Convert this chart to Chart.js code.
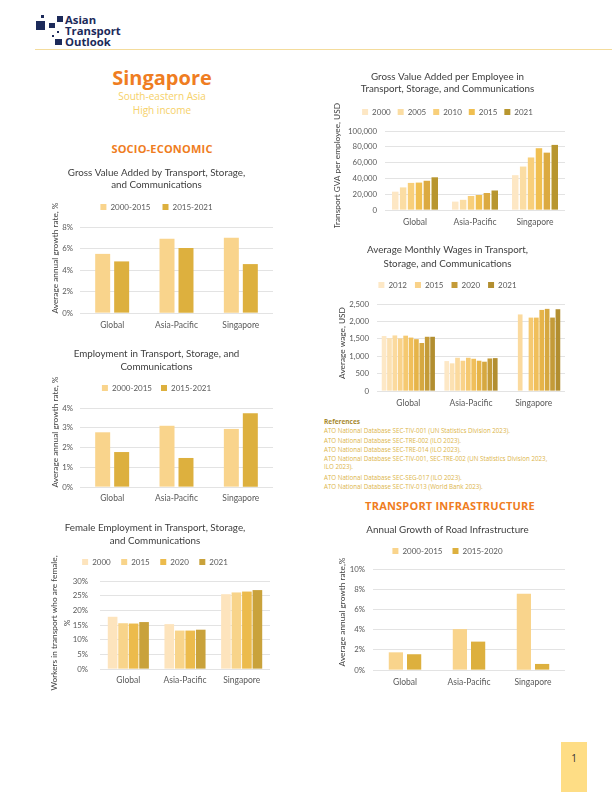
<!DOCTYPE html>
<html><head><meta charset="utf-8">
<script src="https://cdn.jsdelivr.net/npm/chart.js@4.4.1/dist/chart.umd.min.js"></script>
<style>
body{margin:0;background:#fff;}
#page{position:relative;width:612px;height:792px;overflow:hidden;background:#fff;font-family:'Open Sans',sans-serif;}
.t{position:absolute;white-space:nowrap;}
.c{position:absolute;text-align:center;white-space:nowrap;}
canvas{position:absolute;}
.sq{position:absolute;background:#1c2a5a;}
</style></head>
<body><div id="page">
  <!-- logo -->
  <div class="sq" style="left:41px;top:15px;width:3px;height:3px"></div>
  <div class="sq" style="left:57px;top:16px;width:6px;height:6px"></div>
  <div class="sq" style="left:36px;top:21px;width:9px;height:9px"></div>
  <div class="sq" style="left:49px;top:23px;width:6px;height:5px"></div>
  <div class="sq" style="left:57px;top:31px;width:2px;height:2px"></div>
  <div class="sq" style="left:52px;top:35px;width:2px;height:2px"></div>
  <div class="sq" style="left:55px;top:39px;width:7px;height:6px"></div>
  <div class="t" style="left:65px;top:14px;font:bold 11.3px/11px 'Open Sans';color:#1c2a5a">Asian</div>
  <div class="t" style="left:65px;top:25px;font:bold 11.3px/11px 'Open Sans';color:#1c2a5a">Transport</div>
  <div class="t" style="left:65px;top:35.5px;font:bold 11.3px/11px 'Open Sans';color:#1c2a5a">Outlook</div>
  <div style="position:absolute;left:35px;top:49px;width:577px;height:1px;background:#f4dc9c"></div>

  <div class="c" style="left:62px;width:200px;top:64px;font:bold 20px/28px 'Open Sans';color:#ef7d22">Singapore</div>
  <div class="c" style="left:62px;width:200px;top:89px;font:10px/14px 'Open Sans';color:#f6d169">South-eastern Asia</div>
  <div class="c" style="left:62px;width:200px;top:103px;font:10px/14px 'Open Sans';color:#f6d169">High income</div>
  <div class="c" style="left:62px;width:200px;top:141px;font:bold 11px/16px 'Open Sans';letter-spacing:0.2px;color:#ef7d22">SOCIO-ECONOMIC</div>

  <div class="t" style="left:324px;top:417px;font:bold 6.5px/9px 'Open Sans';color:#a88a30">References</div>
  <div class="t" style="left:324px;top:426px;font:6.2px/9px 'Open Sans';color:#dcb54a">ATO National Database SEC-TIV-001 (UN Statistics Division 2023).</div>
  <div class="t" style="left:324px;top:435.5px;font:6.2px/9px 'Open Sans';color:#dcb54a">ATO National Database SEC-TRE-002 (ILO 2023).</div>
  <div class="t" style="left:324px;top:444.5px;font:6.2px/9px 'Open Sans';color:#dcb54a">ATO National Database SEC-TRE-014 (ILO 2023).</div>
  <div class="t" style="left:324px;top:453.5px;font:6.2px/9px 'Open Sans';color:#dcb54a">ATO National Database SEC-TIV-001, SEC-TRE-002 (UN Statistics Division 2023,</div>
  <div class="t" style="left:324px;top:462px;font:6.2px/9px 'Open Sans';color:#dcb54a">ILO 2023).</div>
  <div class="t" style="left:324px;top:472.5px;font:6.2px/9px 'Open Sans';color:#dcb54a">ATO National Database SEC-SEG-017 (ILO 2023).</div>
  <div class="t" style="left:324px;top:481.5px;font:6.2px/9px 'Open Sans';color:#dcb54a">ATO National Database SEC-TIV-013 (World Bank 2023).</div>
  <div class="c" style="left:350px;width:200px;top:498px;font:bold 11px/16px 'Open Sans';letter-spacing:0.2px;color:#ef7d22">TRANSPORT INFRASTRUCTURE</div>

  <div style="position:absolute;left:561px;top:742px;width:26px;height:50px;background:#fedd85"></div>
  <div class="c" style="left:561px;width:26px;top:751px;font:10px/14px 'Open Sans';color:#333">1</div>
</div>
<script>
// ---------------- DATA ----------------
const categories = ['Global', 'Asia-Pacific', 'Singapore'];

const growthPeriods = ['2000-2015', '2015-2021'];
const gvaGrowth2000_2015 = [5.5, 6.9, 7.0];
const gvaGrowth2015_2021 = [4.8, 6.05, 4.55];

const empGrowth2000_2015 = [2.77, 3.1, 2.94];
const empGrowth2015_2021 = [1.77, 1.47, 3.73];

const femaleYears = ['2000', '2015', '2020', '2021'];
const femaleGlobal = [17.8, 15.6, 15.5, 16.0];
const femaleAsiaPacific = [15.3, 13.1, 13.1, 13.4];
const femaleSingapore = [25.5, 26.1, 26.4, 26.9];

const gvaEmpYears = ['2000', '2005', '2010', '2015', '2020', '2021'];
const gvaEmpLegendYears = ['2000', '2005', '2010', '2015', '2021'];
const gvaEmpGlobal = [23200, 28600, 34300, 34700, 37000, 41400];
const gvaEmpAsiaPacific = [10600, 12900, 17700, 19000, 21500, 24700];
const gvaEmpSingapore = [44100, 55000, 66500, 78200, 72600, 82400];

const wageYears = ['2012', '2013', '2014', '2015', '2016', '2017', '2018', '2019', '2020', '2021'];
const wageLegendYears = ['2012', '2015', '2020', '2021'];
const wageGlobal = [1580, 1520, 1597, 1510, 1590, 1535, 1490, 1380, 1558, 1558];
const wageAsiaPacific = [860, 795, 955, 870, 955, 926, 870, 842, 935, 945];
const wageSingapore = [null, null, 2200, null, 2109, 2109, 2330, 2360, 2110, 2350];

const roadPeriods = ['2000-2015', '2015-2020'];
const roadGrowth2000_2015 = [1.75, 4.05, 7.55];
const roadGrowth2015_2020 = [1.56, 2.81, 0.6];

// ---------------- STYLE ----------------
const twoColors = ['#f9d48c', '#ddb03e'];
const femaleColors = ['#fde4bd', '#f8d48a', '#ecbb4c', '#c9a23b'];
const gvaEmpColors = ['#fde7c4', '#fbdda3', '#f8cf7a', '#f0bf50', '#dcaa40', '#b8962f'];
const wageColors = ['#fde8c6', '#fce1b2', '#fbda9e', '#f9d289', '#f5c971', '#f0bf5b', '#e6b449', '#d6a840', '#c49b38', '#b28e30'];
const TITLE_SIZE = 9.8;

Chart.defaults.font.family = 'Lato';
Chart.defaults.color = '#595959';
const page = document.getElementById('page');

function spacerPlugin(h) {
  return { id: 'spacer', beforeInit(chart) {
    const box = { position: 'top', weight: 500, fullSize: true, options: {},
      left: 0, top: 0, right: 0, bottom: 0, width: 0, height: 0,
      isHorizontal() { return true; },
      update(mw) { this.width = mw; this.height = h; return h; },
      draw() {} };
    Chart.layouts.addBox(chart, box);
  }};
}
function yTitlePlugin(lines, cx, cy, lh) {
  return { id: 'ytitle', afterDraw(chart) {
    const ctx = chart.ctx; ctx.save();
    ctx.font = '8.3px Lato'; ctx.fillStyle = '#404040';
    ctx.textAlign = 'center'; ctx.textBaseline = 'middle';
    lines.forEach((t, i) => { ctx.save(); ctx.translate(cx + i * lh, cy); ctx.rotate(-Math.PI / 2); ctx.fillText(t, 0, 0); ctx.restore(); });
    ctx.restore();
  }};
}

function makeChart(L, labels, datasets, yOpts, legendFilter) {
  const cv = document.createElement('canvas');
  const W = L.x1 - L.x0, H = L.y1 - L.y0;
  cv.width = W; cv.height = H;
  cv.style.left = L.x0 + 'px'; cv.style.top = L.y0 + 'px';
  cv.style.width = W + 'px'; cv.style.height = H + 'px';
  page.appendChild(cv);
  const n = L.title.length;
  const tTop = L.titleY - L.titleLH / 2 - L.y0;
  const tBottomAbs = L.titleY - L.titleLH / 2 + n * L.titleLH;
  let p = L.legendPad;
  let pb = L.legendY - 4 - p - tBottomAbs;
  if (pb < 0) { p += pb; pb = 0; }
  const spacerH = Math.max(0, L.plotTop - L.legendY - 14);
  const xH = L.y1 - L.plotBottom;
  const tickPad = L.labelY - L.plotBottom - 5.1;
  return new Chart(cv, {
    type: 'bar',
    data: { labels, datasets },
    plugins: [spacerPlugin(spacerH), yTitlePlugin(L.yTitle, L.yTitleX - L.x0, L.yTitleY - L.y0, L.yTitleLH || 13)],
    options: {
      responsive: false, animation: false, devicePixelRatio: 1,
      layout: { padding: { left: 0, right: L.x1 - L.plotRight, top: 0, bottom: 0 } },
      datasets: { bar: { categoryPercentage: L.cat, barPercentage: L.bar } },
      plugins: {
        tooltip: { enabled: false },
        title: { display: true, text: L.title, color: '#404040',
          font: { family: 'Lato', size: TITLE_SIZE, weight: 'normal', lineHeight: L.titleLH / TITLE_SIZE },
          padding: { top: tTop, bottom: pb } },
        legend: { display: true, position: 'top',
          labels: { boxWidth: 6, boxHeight: 6, padding: p, color: '#595959',
            font: { family: 'Lato', size: 8 },
            filter: legendFilter || (() => true) } }
      },
      scales: {
        x: {
          grid: { display: false, drawTicks: false }, border: { display: false },
          ticks: { padding: tickPad, color: '#595959', font: { family: 'Lato', size: 8.5 }, maxRotation: 0, autoSkip: false },
          afterFit: (s) => { s.height = xH; }
        },
        y: Object.assign({
          beginAtZero: true,
          grid: { color: '#d9d9d9', lineWidth: 0.75, drawTicks: false },
          border: { display: false },
          afterFit: (s) => { s.width = L.plotLeft - L.x0; }
        }, yOpts, {
          ticks: Object.assign({ padding: L.yTickPad, color: '#595959', font: { family: 'Lato', size: 7.8 } }, yOpts.ticks)
        })
      }
    }
  });
}

const pct = (v) => v + '%';
const comma = (v) => v.toLocaleString('en-US');

// 1. Gross Value Added growth
makeChart({ x0: 40, x1: 284, y0: 163, y1: 333, title: ['Gross Value Added by Transport, Storage,', 'and Communications'],
  titleY: 173, titleLH: 12, legendY: 207, legendPad: 17, plotTop: 227, plotBottom: 313, plotLeft: 80, plotRight: 273,
  labelY: 325, yTickPad: 7, yTitle: ['Average annual growth rate, %'], yTitleX: 55, yTitleY: 258, cat: 0.59, bar: 0.79 },
  categories,
  [{ label: growthPeriods[0], data: gvaGrowth2000_2015, backgroundColor: twoColors[0] },
   { label: growthPeriods[1], data: gvaGrowth2015_2021, backgroundColor: twoColors[1] }],
  { min: 0, max: 8, ticks: { stepSize: 2, callback: pct } });

// 2. Employment growth
makeChart({ x0: 40, x1: 284, y0: 345, y1: 506, title: ['Employment in Transport, Storage, and', 'Communications'],
  titleY: 354, titleLH: 12.7, legendY: 388, legendPad: 9, plotTop: 408, plotBottom: 487, plotLeft: 80, plotRight: 273,
  labelY: 498, yTickPad: 7, yTitle: ['Average annual growth rate, %'], yTitleX: 55, yTitleY: 432, cat: 0.59, bar: 0.79 },
  categories,
  [{ label: growthPeriods[0], data: empGrowth2000_2015, backgroundColor: twoColors[0] },
   { label: growthPeriods[1], data: empGrowth2015_2021, backgroundColor: twoColors[1] }],
  { min: 0, max: 4, ticks: { stepSize: 1, callback: pct } });

// 3. Female employment
makeChart({ x0: 40, x1: 284, y0: 518, y1: 692, title: ['Female Employment in Transport, Storage,', 'and Communications'],
  titleY: 528, titleLH: 13, legendY: 562, legendPad: 11, plotTop: 581, plotBottom: 669, plotLeft: 100, plotRight: 270,
  labelY: 680, yTickPad: 12, yTitle: ['Workers in transport who are female,', '%'], yTitleX: 54, yTitleY: 623, yTitleLH: 13, cat: 0.74, bar: 0.92 },
  categories,
  femaleYears.map((y, i) => ({ label: y, data: [femaleGlobal[i], femaleAsiaPacific[i], femaleSingapore[i]], backgroundColor: femaleColors[i] })),
  { min: 0, max: 30, ticks: { stepSize: 5, callback: pct } });

// 4. GVA per employee
makeChart({ x0: 330, x1: 570, y0: 69, y1: 228, title: ['Gross Value Added per Employee in', 'Transport, Storage, and Communications'],
  titleY: 77, titleLH: 12, legendY: 112, legendPad: 7, plotTop: 131, plotBottom: 210, plotLeft: 385, plotRight: 565,
  labelY: 222, yTickPad: 8, yTitle: ['Transport GVA per employee, USD'], yTitleX: 337, yTitleY: 166, cat: 0.79, bar: 0.82 },
  categories,
  gvaEmpYears.map((y, i) => ({ label: y, data: [gvaEmpGlobal[i], gvaEmpAsiaPacific[i], gvaEmpSingapore[i]], backgroundColor: gvaEmpColors[i] })),
  { min: 0, max: 100000, ticks: { stepSize: 20000, callback: comma } },
  (item) => gvaEmpLegendYears.includes(item.text));

// 5. Wages
makeChart({ x0: 330, x1: 570, y0: 242, y1: 412, title: ['Average Monthly Wages in Transport,', 'Storage, and Communications'],
  titleY: 250, titleLH: 14, legendY: 285, legendPad: 8, plotTop: 304, plotBottom: 391, plotLeft: 377, plotRight: 565,
  labelY: 403, yTickPad: 8, yTitle: ['Average wage, USD'], yTitleX: 342, yTitleY: 343, cat: 0.86, bar: 0.87 },
  categories,
  wageYears.map((y, i) => ({ label: y, data: [wageGlobal[i], wageAsiaPacific[i], wageSingapore[i]], backgroundColor: wageColors[i] })),
  { min: 0, max: 2500, ticks: { stepSize: 500, callback: comma } },
  (item) => wageLegendYears.includes(item.text));

// 6. Road infrastructure
makeChart({ x0: 330, x1: 570, y0: 522, y1: 692, title: ['Annual Growth of Road Infrastructure'],
  titleY: 530, titleLH: 12, legendY: 551, legendPad: 10, plotTop: 569, plotBottom: 670, plotLeft: 373, plotRight: 565,
  labelY: 682, yTickPad: 8, yTitle: ['Average annual growth rate,%'], yTitleX: 342, yTitleY: 612, cat: 0.57, bar: 0.78 },
  categories,
  [{ label: roadPeriods[0], data: roadGrowth2000_2015, backgroundColor: twoColors[0] },
   { label: roadPeriods[1], data: roadGrowth2015_2020, backgroundColor: twoColors[1] }],
  { min: 0, max: 10, ticks: { stepSize: 2, callback: pct } });
</script>
</body></html>
